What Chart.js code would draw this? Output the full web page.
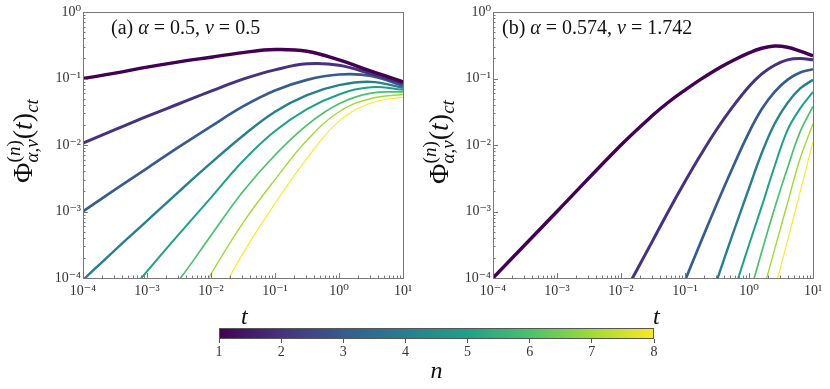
<!DOCTYPE html>
<html>
<head>
<meta charset="utf-8">
<script src="https://cdn.jsdelivr.net/npm/chart.js@4.4.0/dist/chart.umd.min.js"></script>
<style>
  body { margin: 0; background: #fff; }
  #wrap { position: relative; width: 830px; height: 389px; overflow: hidden; background: #fff; }
  canvas { position: absolute; }
  .tlab { position: absolute; font: italic 24px "Liberation Serif", "DejaVu Serif", serif; line-height: 24px; color: #111; }
</style>
</head>
<body>
<div id="wrap">
  <canvas id="chartA" width="430" height="300" style="left:0px;top:0px"></canvas>
  <canvas id="chartB" width="425" height="300" style="left:405px;top:0px"></canvas>
  <canvas id="cbar" width="830" height="89" style="left:0px;top:300px"></canvas>
  <div class="tlab" style="left:241px;top:304px">t</div>
  <div class="tlab" style="left:653px;top:304px">t</div>
</div>
<script>
const SERIF = '"Liberation Serif", "DejaVu Serif", serif';

// colours and line widths per n (viridis, thick -> thin)
const viridis8 = ['#440154', '#46327e', '#365c8d', '#277f8e', '#1fa187', '#4ac16d', '#a0da39', '#fde725'];
const lineWidths = [3.4, 3.0, 2.7, 2.4, 2.0, 1.7, 1.4, 1.1];

const nValues = [1, 2, 3, 4, 5, 6, 7, 8];
const tTicks = [1e-4, 1e-3, 1e-2, 1e-1, 1, 10];
const phiTicks = [1e-4, 1e-3, 1e-2, 1e-1, 1];

// panel (a): sample times and log10 of Phi
const tA = [1e-4, 3.16e-4, 1e-3, 3.16e-3, 0.01, 0.0316, 0.1, 0.316, 1, 3.16, 10];
const logPhiA1 = [-1.0, -0.92, -0.83, -0.75, -0.68, -0.61, -0.565, -0.59, -0.72, -0.89, -1.05];
const logPhiA2 = [-1.97, -1.77, -1.57, -1.38, -1.19, -1.01, -0.87, -0.78, -0.8, -0.93, -1.08];
const logPhiA3 = [-3.0, -2.67, -2.35, -2.03, -1.72, -1.42, -1.18, -1.02, -0.94, -0.96, -1.11];
const logPhiA4 = [-4.03, -3.58, -3.14, -2.7, -2.27, -1.86, -1.5, -1.25, -1.1, -1.05, -1.14];
const logPhiA5 = [null, -4.47, -3.9, -3.34, -2.79, -2.24, -1.79, -1.46, -1.24, -1.13, -1.17];
const logPhiA6 = [null, null, -4.6, -4.03, -3.36, -2.7, -2.15, -1.7, -1.38, -1.22, -1.2];
const logPhiA7 = [null, null, null, -4.8, -3.94, -3.17, -2.52, -1.93, -1.5, -1.3, -1.24];
const logPhiA8 = [null, null, null, null, -4.5, -3.63, -2.88, -2.2, -1.64, -1.37, -1.28];

// panel (b)
const tB = [1e-4, 1e-3, 1e-2, 0.0316, 0.0562, 0.1, 0.178, 0.316, 0.562, 1, 1.585, 2.512, 3.981, 6.31, 10];
const logPhiB1 = [-4, -3, -2.0, -1.55, -1.35, -1.175, -1.01, -0.86, -0.73, -0.615, -0.545, -0.512, -0.53, -0.59, -0.66];
const logPhiB2 = [null, null, -4.32, -3.43, -2.98, -2.55, -2.14, -1.76, -1.42, -1.12, -0.93, -0.8, -0.72, -0.7, -0.72];
const logPhiB3 = [null, null, null, null, null, -4.04, -3.45, -2.88, -2.33, -1.81, -1.46, -1.2, -1.02, -0.91, -0.86];
const logPhiB4 = [null, null, null, null, null, null, null, -4.03, -3.33, -2.65, -2.12, -1.68, -1.37, -1.15, -1.02];
const logPhiB5 = [null, null, null, null, null, null, null, null, -4.25, -3.5, -2.92, -2.32, -1.78, -1.45, -1.2];
const logPhiB6 = [null, null, null, null, null, null, null, null, null, -4.28, -3.6, -2.95, -2.35, -1.8, -1.42];
const logPhiB7 = [null, null, null, null, null, null, null, null, null, null, -4.27, -3.57, -2.88, -2.2, -1.68];
const logPhiB8 = [null, null, null, null, null, null, null, null, null, null, null, -4.17, -3.45, -2.7, -1.95];

const seriesA = [logPhiA1, logPhiA2, logPhiA3, logPhiA4, logPhiA5, logPhiA6, logPhiA7, logPhiA8];
const seriesB = [logPhiB1, logPhiB2, logPhiB3, logPhiB4, logPhiB5, logPhiB6, logPhiB7, logPhiB8];

const f = (size, italic) => (italic ? 'italic ' : '') + size + 'px ' + SERIF;
const SUP = { '-': '\u207B', '0': '\u2070', '1': '\u00B9', '2': '\u00B2', '3': '\u00B3', '4': '\u2074' };
const powLabel = v => '10' + String(Math.round(Math.log10(v))).split('').map(c => SUP[c]).join('');

// y axis title: Phi^(n)_{alpha,nu}(t)_ct
const phiTitle = [
    { t: '\u03A6', f: f(28) },
    { stack: [
        [{ t: '(', f: f(19), dy: -12 }, { t: 'n', f: f(19, true), dy: -12 }, { t: ')', f: f(19), dy: -12 }],
        [{ t: '\u03B1', f: f(19, true), dy: 6 }, { t: ',', f: f(19), dy: 6 }, { t: '\u03BD', f: f(19, true), dy: 6 }]
    ] },
    { t: '(', f: f(28) }, { t: 't', f: f(28, true) }, { t: ')', f: f(28) },
    { t: 'ct', f: f(19, true), dy: 6 }
];
const annA = [{ t: '(a) ', f: f(20) }, { t: '\u03B1', f: f(20, true) }, { t: ' = 0.5, ', f: f(20) }, { t: '\u03BD', f: f(20, true) }, { t: ' = 0.5', f: f(20) }];
const annB = [{ t: '(b) ', f: f(20) }, { t: '\u03B1', f: f(20, true) }, { t: ' = 0.574, ', f: f(20) }, { t: '\u03BD', f: f(20, true) }, { t: ' = 1.742', f: f(20) }];

function richWidth(ctx, parts) {
    let w = 0;
    for (const p of parts) {
        if (p.stack) w += Math.max(...p.stack.map(s => richWidth(ctx, s)));
        else { ctx.font = p.f; w += ctx.measureText(p.t).width; }
    }
    return w;
}

function drawRich(ctx, parts, x, y) {
    for (const p of parts) {
        if (p.stack) {
            p.stack.forEach(s => drawRich(ctx, s, x, y));
            x += Math.max(...p.stack.map(s => richWidth(ctx, s)));
        } else {
            ctx.font = p.f;
            ctx.fillText(p.t, x, y + (p.dy || 0));
            x += ctx.measureText(p.t).width;
        }
    }
    return x;
}

// frame, inward log ticks, y title and panel caption
function panelDecor(titleX, titleY, annX, annY, ann) {
    return {
        id: 'panelDecor',
        afterDraw(chart) {
            const { ctx, chartArea: a, scales: { x, y } } = chart;
            ctx.save();
            ctx.strokeStyle = '#777';
            ctx.lineWidth = 1;
            ctx.beginPath();
            for (let d = -4; d <= 1; d++) {
                for (let m = 1; m <= 9; m++) {
                    const v = m * Math.pow(10, d);
                    if (v > 10.0001) break;
                    const px = Math.round(x.getPixelForValue(v)) + 0.5;
                    ctx.moveTo(px, a.bottom);
                    ctx.lineTo(px, a.bottom - (m === 1 ? 5 : 2.5));
                    if (v <= 1.0001) {
                        const py = Math.round(y.getPixelForValue(v)) + 0.5;
                        ctx.moveTo(a.left, py);
                        ctx.lineTo(a.left + (m === 1 ? 5 : 2.5), py);
                    }
                }
            }
            ctx.stroke();
            ctx.strokeRect(Math.round(a.left) + 0.5, Math.round(a.top) + 0.5,
                Math.round(a.right - a.left), Math.round(a.bottom - a.top));

            ctx.fillStyle = '#111';
            ctx.textBaseline = 'alphabetic';
            drawRich(ctx, ann, annX, annY);

            ctx.translate(titleX, titleY);
            ctx.rotate(-Math.PI / 2);
            drawRich(ctx, phiTitle, -richWidth(ctx, phiTitle) / 2, 0);
            ctx.restore();
        }
    };
}

function panelConfig(times, series, yWidth, rightPad, decor) {
    return {
        type: 'line',
        data: {
            datasets: series.map((logs, i) => ({
                data: times.map((t, j) => ({ x: t, y: logs[j] == null ? null : Math.pow(10, logs[j]) })),
                borderColor: viridis8[i],
                borderWidth: lineWidths[i],
                pointRadius: 0,
                fill: false,
                spanGaps: false,
                tension: 0.4,
                clip: 0
            }))
        },
        options: {
            responsive: false,
            animation: false,
            events: [],
            layout: { padding: { left: 0, top: 12, right: rightPad, bottom: 0 } },
            plugins: { legend: { display: false }, tooltip: { enabled: false } },
            elements: { line: { capBezierPoints: false } },
            scales: {
                x: {
                    type: 'logarithmic', min: 1e-4, max: 10,
                    grid: { display: false, drawTicks: false }, border: { display: false },
                    afterBuildTicks: s => { s.ticks = tTicks.map(v => ({ value: v })); },
                    afterFit: s => { s.height = 22; },
                    ticks: { callback: v => powLabel(v), font: { family: SERIF, size: 14 }, color: '#333',
                             padding: 5, maxRotation: 0, autoSkip: false }
                },
                y: {
                    type: 'logarithmic', min: 1e-4, max: 1,
                    grid: { display: false, drawTicks: false }, border: { display: false },
                    afterBuildTicks: s => { s.ticks = phiTicks.map(v => ({ value: v })); },
                    afterFit: s => { s.width = yWidth; },
                    ticks: { callback: v => powLabel(v), font: { family: SERIF, size: 14 }, color: '#333',
                             padding: 2, autoSkip: false }
                }
            }
        },
        plugins: [decor]
    };
}

new Chart(document.getElementById('chartA'),
    panelConfig(tA, seriesA, 83, 27, panelDecor(32, 141, 111, 34, annA)));
new Chart(document.getElementById('chartB'),
    panelConfig(tB, seriesB, 88, 17, panelDecor(43, 142, 97, 34, annB)));

// colour bar for n
const colorbarFill = {
    id: 'colorbarFill',
    beforeDatasetsDraw(chart) {
        const { ctx, chartArea: a, scales: { x } } = chart;
        const g = ctx.createLinearGradient(a.left, 0, a.right, 0);
        nValues.forEach((n, i) => g.addColorStop((x.getPixelForValue(n) - a.left) / (a.right - a.left), viridis8[i]));
        ctx.save();
        ctx.fillStyle = g;
        ctx.fillRect(a.left, a.top, a.right - a.left, a.bottom - a.top);
        ctx.strokeStyle = '#555';
        ctx.lineWidth = 1;
        ctx.strokeRect(Math.round(a.left) + 0.5, Math.round(a.top) + 0.5,
            Math.round(a.right - a.left) - 1, Math.round(a.bottom - a.top) - 1);
        ctx.restore();
    }
};

new Chart(document.getElementById('cbar'), {
    type: 'line',
    data: { datasets: [] },
    options: {
        responsive: false,
        animation: false,
        events: [],
        layout: { padding: { left: 219, right: 176, top: 28, bottom: 0 } },
        plugins: { legend: { display: false }, tooltip: { enabled: false } },
        scales: {
            x: {
                type: 'linear', min: 1, max: 8,
                afterBuildTicks: s => { s.ticks = nValues.map(v => ({ value: v })); },
                afterFit: s => { s.height = 50; },
                grid: { display: true, drawOnChartArea: false, tickLength: 4, color: '#555' },
                border: { display: false },
                ticks: { font: { family: SERIF, size: 14 }, color: '#333', padding: 1 },
                title: { display: true, text: 'n', color: '#111', padding: { top: 0, bottom: 3 },
                         font: { family: SERIF, size: 24, style: 'italic' } }
            },
            y: { display: false, min: 0, max: 1 }
        }
    },
    plugins: [colorbarFill]
});
</script>
</body>
</html>
